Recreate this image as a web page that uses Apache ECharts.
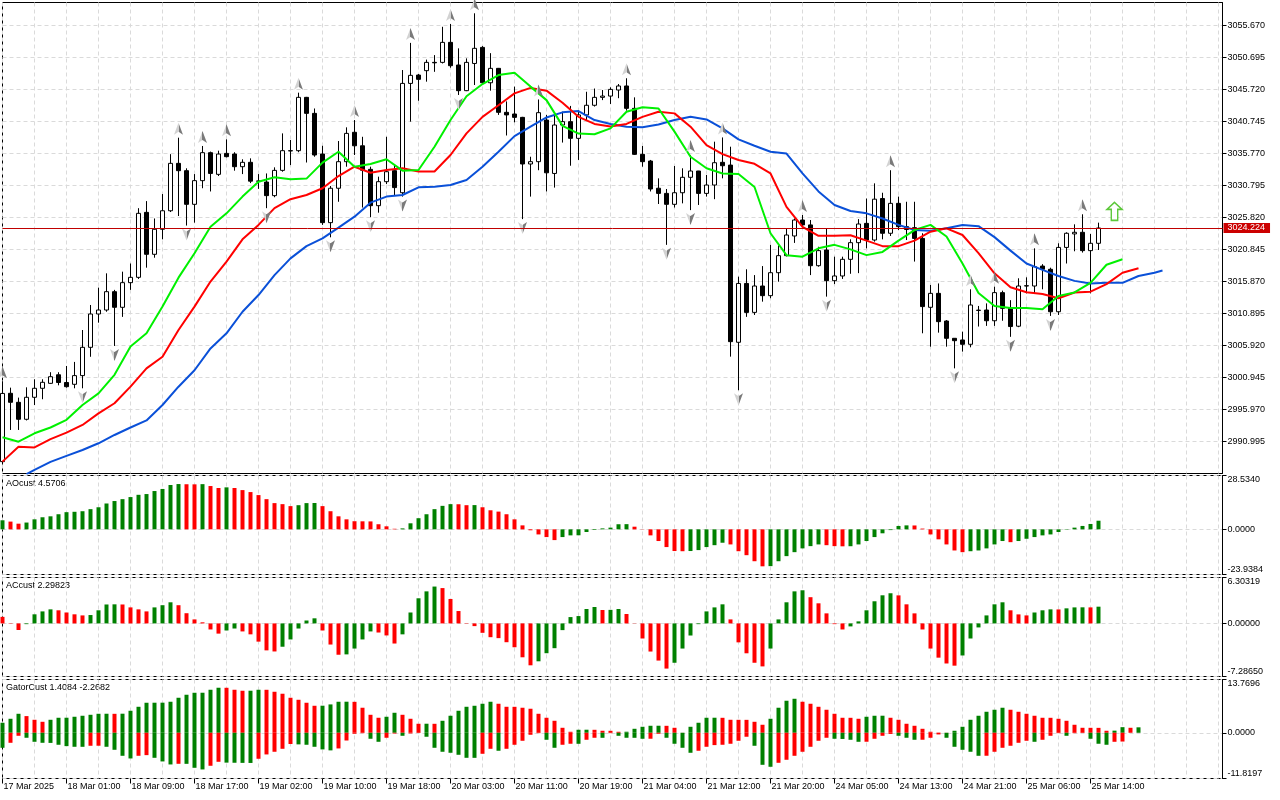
<!DOCTYPE html>
<html><head><meta charset="utf-8">
<script src="https://cdn.jsdelivr.net/npm/echarts/dist/echarts.min.js"></script>
<style>html,body{margin:0;padding:0;background:#fff}#c{width:1280px;height:800px}</style>
</head><body><div id="c"></div>
<script>
// ---------- DATA ----------
const tickLabels = ['17 Mar 2025','18 Mar 01:00','18 Mar 09:00','18 Mar 17:00','19 Mar 02:00','19 Mar 10:00','19 Mar 18:00','20 Mar 03:00','20 Mar 11:00','20 Mar 19:00','21 Mar 04:00','21 Mar 12:00','21 Mar 20:00','24 Mar 05:00','24 Mar 13:00','24 Mar 21:00','25 Mar 06:00','25 Mar 14:00'];
const priceTicks = [2990.995,2995.970,3000.945,3005.920,3010.895,3015.870,3020.845,3025.820,3030.795,3035.770,3040.745,3045.720,3050.695,3055.670];
// [open, high, low, close] per hourly bar
const ohlc = [
[2987.9,3000.4,2987.6,2998.5],[2998.52,2999.40,2992.82,2997.12],[2997.12,2997.85,2992.82,2994.48],[2994.48,2999.45,2994.3,2997.9],
[2997.9,3000.7,2996.7,2999.3],[2999.3,3000.7,2997.6,3000.23],[3000.07,3001.8,3000.0,3001.1],[3001.4,3001.8,2999.76,3000.2],
[3000.2,3002.77,2999.4,2999.55],[2999.92,3003.4,2999.3,3001.27],[3001.27,3008.36,2999.3,3005.67],[3005.67,3012.25,3004.2,3010.85],
[3010.85,3014.95,3009.5,3011.47],[3011.47,3017.17,3011.2,3014.32],[3014.32,3014.6,3005.88,3011.89],[3011.89,3017.43,3010.4,3015.72],
[3015.72,3018.7,3014.6,3016.55],[3016.55,3027.3,3016.3,3026.5],[3026.65,3028.4,3018.05,3020.13],[3020.13,3025.7,3019.6,3024.02],
[3024.02,3029.5,3022.46,3026.9],[3026.9,3035.7,3026.7,3034.27],[3034.27,3038.26,3026.08,3033.13],[3033.13,3033.5,3024.6,3027.9],
[3027.9,3032.6,3025.05,3031.58],[3031.58,3036.97,3030.4,3035.93],[3035.93,3036.1,3029.9,3032.7],[3032.56,3036.24,3032.3,3035.72],
[3035.82,3038.0,3035.2,3035.31],[3035.72,3036.0,3033.13,3033.75],[3033.75,3034.9,3032.6,3034.43],[3034.43,3035.05,3031.2,3031.5],
[3031.52,3032.6,3030.3,3031.5],[3031.37,3032.7,3027.3,3029.25],[3029.25,3033.65,3029.0,3033.18],[3033.18,3038.93,3032.97,3036.24],
[3036.24,3037.9,3034.0,3036.2],[3036.24,3045.26,3036.0,3044.53],[3044.53,3044.6,3034.4,3042.04],[3042.04,3042.8,3035.3,3035.57],
[3035.72,3037.0,3024.7,3025.05],[3025.05,3030.75,3022.77,3030.4],[3030.4,3037.74,3028.3,3034.53],[3034.53,3039.87,3033.75,3038.93],
[3039.1,3041.0,3035.57,3037.0],[3037.0,3038.4,3027.4,3033.2],[3033.34,3033.75,3025.9,3027.69],[3027.69,3032.2,3026.6,3031.42],
[3031.42,3038.4,3031.06,3032.97],[3033.13,3034.0,3029.2,3030.5],[3029.7,3048.78,3029.1,3046.7],[3046.7,3053.0,3040.75,3047.95],
[3048.0,3048.16,3044.0,3047.33],[3048.68,3050.4,3046.97,3049.97],[3049.97,3051.1,3048.5,3049.9],[3049.97,3055.5,3049.8,3053.08],
[3053.08,3055.93,3049.14,3049.45],[3049.56,3052.15,3044.9,3045.57],[3045.57,3050.59,3045.5,3049.97],[3049.8,3057.6,3046.45,3052.15],
[3052.3,3052.5,3046.5,3046.8],[3046.8,3051.4,3045.57,3049.04],[3049.04,3049.1,3041.8,3042.2],[3042.2,3043.9,3038.6,3041.8],
[3041.94,3046.2,3040.65,3041.42],[3041.42,3041.5,3025.6,3034.17],[3034.17,3035.3,3029.1,3034.53],[3034.53,3044.2,3033.2,3042.15],
[3041.0,3041.8,3029.9,3032.8],[3032.7,3041.94,3030.5,3040.23],[3040.23,3042.3,3037.5,3040.75],[3040.75,3043.2,3033.9,3038.16],
[3038.16,3042.56,3034.8,3041.8],[3041.8,3045.4,3041.0,3043.3],[3043.3,3045.9,3043.1,3044.53],[3044.53,3045.67,3044.1,3044.73],
[3044.73,3046.09,3043.5,3045.77],[3045.67,3046.6,3044.4,3046.3],[3046.3,3047.5,3042.46,3042.82],[3042.82,3044.53,3035.57,3035.67],
[3035.67,3036.97,3033.75,3034.53],[3034.63,3034.8,3029.9,3030.28],[3030.4,3031.94,3027.95,3029.6],[3029.6,3030.28,3021.6,3027.9],
[3027.9,3033.86,3027.4,3029.7],[3029.7,3033.5,3028.05,3032.1],[3032.1,3035.57,3027.0,3033.08],[3033.08,3033.1,3027.8,3029.6],
[3029.6,3032.46,3029.1,3030.9],[3030.9,3037.64,3028.7,3034.37],[3034.43,3038.3,3031.94,3033.9],[3034.0,3036.86,3004.22,3006.55],
[3006.45,3016.65,2999.0,3015.6],[3015.6,3017.8,3010.4,3011.1],[3011.1,3016.9,3010.7,3015.2],[3015.2,3018.3,3012.77,3013.7],
[3013.7,3021.6,3013.3,3017.27],[3017.27,3021.5,3015.87,3019.92],[3019.92,3024.17,3019.8,3023.13],[3022.98,3025.7,3021.9,3025.46],
[3025.46,3026.24,3024.5,3024.7],[3024.7,3025.46,3016.9,3018.36],[3018.36,3021.3,3018.2,3020.7],[3020.8,3024.17,3013.55,3016.03],
[3016.03,3019.76,3015.5,3016.76],[3016.76,3019.76,3016.3,3019.35],[3019.35,3022.46,3017.1,3021.94],[3021.94,3025.6,3017.2,3024.84],
[3024.94,3028.8,3021.06,3022.35],[3022.35,3031.16,3022.1,3028.7],[3028.8,3029.7,3022.46,3023.4],[3023.4,3033.2,3022.98,3028.05],
[3028.05,3029.1,3023.9,3024.43],[3024.43,3028.3,3022.35,3024.0],[3024.27,3028.3,3019.0,3022.6],[3022.6,3023.4,3007.85,3012.0],
[3011.89,3015.36,3005.77,3014.06],[3014.06,3015.6,3007.95,3009.66],[3009.76,3009.9,3005.77,3007.07],[3007.07,3007.1,3002.4,3006.7],
[3006.81,3008.1,3005.0,3006.14],[3006.14,3014.69,3005.67,3012.25],[3011.4,3012.1,3008.9,3011.45],[3011.47,3012.5,3009.0,3009.8],
[3009.8,3015.1,3009.0,3014.17],[3014.17,3014.48,3009.8,3011.73],[3011.73,3013.0,3007.3,3008.9],[3008.95,3016.4,3008.8,3015.2],
[3015.2,3016.55,3014.06,3015.25],[3015.2,3021.06,3014.06,3018.21],[3018.3,3018.6,3014.69,3017.8],[3017.8,3018.05,3010.55,3011.2],
[3011.2,3021.84,3010.7,3021.2],[3021.2,3023.55,3018.7,3023.4],[3023.3,3024.79,3020.6,3023.55],[3023.55,3026.35,3020.4,3020.7],
[3020.7,3023.3,3014.06,3021.84],[3021.84,3025.05,3020.8,3024.224]
];
// Alligator lines, [bar index, price]
const lips = [[0,2991.68],[2,2991.0],[4,2992.3],[6,2993.2],[8,2994.4],[10,2996.7],[12,2998.5],[14,3001.4],[16,3005.8],[18,3007.85],[20,3012.0],[22,3016.5],[24,3020.3],[26,3024.4],[28,3026.5],[30,3029.1],[32,3031.4],[34,3032.1],[36,3031.8],[38,3031.9],[40,3034.38],[42,3036.08],[44,3033.75],[46,3034.17],[48,3034.9],[50,3033.13],[52,3033.23],[54,3036.86],[56,3041.0],[58,3044.7],[60,3046.6],[62,3048.0],[64,3048.36],[66,3046.2],[68,3044.1],[70,3040.1],[72,3038.9],[74,3038.8],[76,3039.7],[78,3042.3],[80,3042.98],[82,3042.8],[84,3039.2],[86,3035.3],[88,3033.5],[90,3032.7],[92,3032.6],[94,3030.6],[96,3023.4],[98,3020.0],[100,3019.76],[102,3021.06],[104,3021.6],[106,3020.9],[108,3020.0],[110,3020.5],[112,3022.25],[114,3023.9],[116,3024.7],[118,3022.9],[120,3018.7],[122,3014.1],[124,3012.1],[126,3011.8],[128,3011.8],[130,3011.6],[132,3013.65],[134,3014.2],[136,3015.7],[138,3018.5],[140,3019.35]];
const teeth = [[0,2987.9],[2,2990.2],[4,2990.1],[6,2991.4],[8,2992.4],[10,2993.6],[12,2995.4],[14,2996.97],[16,2999.55],[18,3002.4],[20,3004.2],[22,3008.36],[24,3012.0],[26,3015.9],[28,3019.0],[30,3022.46],[32,3024.7],[34,3027.3],[36,3028.7],[38,3029.35],[40,3030.4],[42,3032.3],[44,3033.75],[46,3032.8],[48,3033.23],[50,3033.5],[52,3033.0],[54,3033.0],[56,3035.57],[58,3038.93],[60,3041.5],[62,3043.3],[64,3045.15],[66,3046.0],[68,3045.57],[70,3043.7],[72,3041.5],[74,3040.4],[76,3040.0],[78,3040.4],[80,3041.5],[82,3042.3],[84,3042.04],[86,3039.97],[88,3037.1],[90,3035.7],[92,3034.8],[94,3034.2],[96,3032.7],[98,3027.5],[100,3024.4],[102,3023.0],[104,3023.0],[106,3023.1],[108,3022.25],[110,3021.4],[112,3021.4],[114,3022.25],[116,3023.65],[118,3024.17],[120,3023.13],[122,3020.3],[124,3017.17],[126,3015.0],[128,3014.22],[130,3013.96],[132,3013.3],[134,3014.2],[136,3014.32],[138,3015.5],[140,3017.27],[142,3017.95]];
const jaw = [[3,2985.95],[4,2986.6],[6,2987.85],[8,2988.8],[10,2989.7],[12,2990.75],[14,2992.04],[16,2993.2],[18,2994.3],[20,2996.7],[22,2999.55],[24,3002.1],[26,3005.5],[28,3007.85],[30,3011.2],[32,3013.8],[34,3016.9],[36,3019.5],[38,3021.4],[40,3022.6],[42,3024.27],[44,3025.98],[46,3028.16],[48,3029.1],[50,3029.35],[52,3030.54],[54,3030.64],[56,3030.9],[58,3031.68],[60,3033.75],[62,3036.08],[64,3038.5],[66,3039.97],[68,3041.4],[70,3042.2],[72,3042.4],[74,3041.0],[76,3040.4],[78,3039.97],[80,3039.87],[82,3040.3],[84,3041.0],[86,3041.5],[88,3041.1],[90,3039.7],[92,3038.0],[94,3037.0],[96,3036.08],[98,3035.8],[100,3032.7],[102,3029.9],[104,3027.8],[106,3026.86],[108,3026.5],[110,3025.7],[112,3024.7],[114,3023.9],[116,3023.8],[118,3024.17],[120,3024.7],[122,3024.5],[124,3022.8],[126,3020.7],[128,3018.7],[130,3017.7],[132,3016.76],[134,3016.0],[136,3015.6],[138,3015.7],[140,3015.7],[142,3016.76],[144,3017.27],[145,3017.6]];
const upFractals = [0,22,25,28,37,44,51,56,59,67,78,86,90,100,111,121,124,129,135];
const downFractals = [10,14,23,33,41,46,50,57,65,83,86,92,103,119,126,131];
const buySignal = [[139,3026.81]];
const ao = [4.8,4.1,3.0,3.6,5.3,6.4,6.9,8.0,9.1,9.3,
9.6,10.7,11.7,13.7,15.0,16.0,17.1,18.3,18.7,20.3,
21.4,23.5,24.0,23.9,23.85,23.95,22.95,21.9,22.25,21.9,
20.8,19.75,18.15,16.0,13.9,13.35,12.3,12.8,13.9,13.95,
12.3,9.6,6.9,5.3,4.3,4.25,4.2,2.7,1.6,0.3,
0.5,3.2,5.9,8.0,10.7,12.45,13.35,13.3,12.8,12.85,
11.7,10.1,9.4,8.0,5.3,2.1,-0.5,-2.7,-4.1,-5.7,
-4.1,-3.2,-3.15,-1.4,-0.35,0.5,0.9,2.7,2.75,1.4,
-0.1,-3.2,-6.2,-9.4,-11.5,-11.6,-11.5,-11.0,-9.4,-8.4,
-7.1,-8.0,-11.6,-13.7,-16.9,-19.6,-19.5,-16.9,-14.2,-12.1,
-10.1,-8.9,-8.0,-8.4,-8.9,-9.0,-8.95,-8.0,-6.2,-4.1,
-2.1,-0.4,1.8,2.1,2.05,0.4,-2.7,-5.3,-8.0,-11.2,
-12.1,-11.6,-11.2,-10.1,-8.0,-6.2,-6.8,-6.2,-5.0,-4.1,
-3.2,-2.7,-1.4,-0.2,0.9,1.8,2.85,4.5706];
const ac = [0.9,-0.05,-0.9,-0.1,1.25,1.65,1.93,1.8,1.5,1.25,
1.1,1.15,1.8,2.6,2.62,2.6,2.2,1.93,1.65,2.2,
2.5,2.9,2.5,1.4,0.55,0.15,-0.83,-1.4,-0.97,-0.7,
-1.1,-1.5,-2.5,-3.7,-3.85,-3.2,-2.2,-0.7,0.4,0.7,
-0.97,-2.9,-4.3,-4.25,-3.45,-2.2,-1.1,-1.25,-1.65,-2.76,
-1.5,1.5,3.45,4.4,5.06,4.85,3.36,1.70,0.05,-0.37,
-1.29,-1.89,-2.02,-2.58,-3.27,-4.65,-5.75,-5.2,-4.09,-3.4,
-0.92,0.87,1.01,1.98,2.25,1.84,1.86,1.98,1.29,-0.03,
-2.07,-3.86,-5.1,-6.2,-5.4,-3.45,-1.66,-0.1,1.65,2.2,
2.62,0.55,-2.6,-4.1,-5.4,-5.9,-3.45,0.55,2.9,4.4,
4.55,3.6,2.76,1.38,-0.1,-0.83,-0.41,0.28,1.8,3.04,
3.86,4.14,3.85,2.62,1.38,-0.83,-3.45,-4.7,-5.5,-5.8,
-4.4,-2.07,-0.55,1.1,2.62,2.9,1.8,1.24,1.1,1.5,
1.8,1.93,1.92,2.07,2.2,2.21,2.2,2.29823];
const gatorUp = [2.59,3.62,4.91,4.31,3.36,2.84,3.36,3.88,3.89,4.14,
4.40,4.65,4.91,4.92,4.90,4.93,5.69,6.72,7.76,7.77,
7.78,8.02,9.05,9.83,10.34,10.35,11.12,11.64,11.63,11.12,
10.86,10.87,11.12,11.11,10.6,10.09,9.05,8.53,7.76,6.98,
7.0,7.33,8.02,8.03,8.0,6.47,4.65,3.88,4.14,5.17,
4.65,3.62,2.33,2.34,2.32,3.10,4.40,5.69,6.72,6.98,
7.50,8.02,7.50,6.72,6.71,6.47,6.21,4.91,3.88,3.10,
1.29,0.26,0.78,0.79,0.77,0.52,0.51,0.26,0.27,1.03,
1.55,1.81,1.82,1.80,1.29,0.02,1.55,2.59,3.88,3.89,
3.87,3.36,3.35,3.34,2.84,2.07,3.62,6.47,8.28,8.79,
8.02,7.50,6.72,5.95,4.91,3.88,3.87,3.62,4.14,4.40,
4.41,3.88,3.36,2.33,1.81,1.03,0.26,0.05,0.02,0.52,
1.55,3.36,4.40,5.43,5.95,6.47,5.95,5.43,4.91,4.40,
3.88,3.87,3.62,3.10,2.07,1.29,1.28,1.27,0.52,0.55,
1.45,1.29,1.4084];
const gatorDown = [-3.88,-2.59,-0.78,-1.29,-2.33,-2.59,-2.62,-3.10,-3.45,-3.62,
-3.63,-3.36,-3.35,-3.62,-4.40,-5.95,-6.64,-5.95,-5.78,-6.47,
-7.41,-8.19,-8.02,-8.03,-9.05,-9.48,-8.53,-7.50,-7.72,-7.75,
-7.78,-7.80,-6.72,-5.60,-4.91,-4.14,-2.90,-3.0,-3.1,-3.62,
-4.30,-4.55,-4.05,-2.0,-0.25,-0.1,-1.55,-2.33,-1.29,-0.2,
-0.78,-0.17,-0.05,-1.03,-3.88,-4.91,-5.17,-5.69,-6.47,-6.48,
-5.43,-4.14,-4.65,-4.14,-3.10,-2.07,-0.52,-0.1,-1.81,-3.88,
-3.10,-2.84,-2.85,-1.81,-1.29,-1.30,-0.1,-0.78,-1.29,-1.30,
-1.55,-1.54,-0.26,-1.29,-2.84,-3.88,-5.17,-4.65,-3.62,-3.19,
-3.10,-2.84,-2.07,-1.03,-3.36,-8.28,-8.79,-7.76,-6.98,-5.95,
-4.91,-3.62,-2.07,-1.29,-1.55,-1.60,-1.81,-2.33,-2.32,-1.55,
-0.78,-0.3,-0.78,-1.29,-1.81,-1.80,-1.29,-0.43,-1.29,-3.62,
-4.40,-4.91,-5.95,-5.94,-4.91,-3.88,-3.36,-2.59,-2.07,-2.33,
-1.81,-0.78,-0.1,-0.78,-0.1,-0.05,-1.55,-2.84,-3.10,-2.33,
-2.2682];
// colour of the first visible bar (no previous bar on screen)
const firstRising = {ao:true, ac:false, gatorUp:true, gatorDown:true};

// ---------- CHART ----------
const FONT = "'Liberation Sans', Arial, sans-serif";
const GRIDC = '#dadada';
const DASH = [4,3];
const GREEN = '#008000', RED = '#ff0000';
const lastClose = ohlc[ohlc.length-1][3];
const labelBars = tickLabels.map((_, i) => i * 8);

const grids = [
  {left:2.5, top:2.5, width:1220, height:471},
  {left:2.5, top:475.5, width:1220, height:99},
  {left:2.5, top:577.5, width:1220, height:99},
  {left:2.5, top:679.5, width:1220, height:99}
].map(g => Object.assign(g, {show:true, borderColor:'#000', borderWidth:1, backgroundColor:'#fff', containLabel:false}));

function xAx(gi){
  return {type:'value', gridIndex:gi, min:0, max:152.5, interval:8, position:'bottom',
    axisLine:{show:false, onZero:false},
    axisTick:{show:false},
    axisLabel:{show:false},
    splitLine:{show:true, lineStyle:{color:GRIDC, type:DASH, width:1}},
    minorTick:{show:false, splitNumber:2},
    minorSplitLine:{show:true, lineStyle:{color:GRIDC, type:DASH, width:1}}};
}
// time axis: ticks and labels only at labelled bars
const timeAxis = {type:'value', gridIndex:3, min:0, max:152.5, position:'bottom',
  axisLine:{show:false, onZero:false},
  axisTick:{show:true, length:5, customValues:labelBars, lineStyle:{color:'#000'}},
  axisLabel:{show:true, customValues:labelBars, formatter:v => tickLabels[Math.round(v/8)] || '', align:'left', margin:4,
    fontSize:9, color:'#000', fontFamily:FONT, padding:[0,0,0,1]},
  splitLine:{show:false}, minorSplitLine:{show:false}};

function edgeFmt(min, max, dec){
  return v => {
    const s = v.toFixed(dec);
    if (Math.abs(v - max) < 1e-9) return '{t|' + s + '}';
    if (Math.abs(v - min) < 1e-9) return '{b|' + s + '}';
    return s;
  };
}
function subY(gi, min, max, dec){
  const vals = [min, 0, max];
  return {type:'value', gridIndex:gi, position:'right', min:min, max:max,
    axisLine:{show:true, onZero:false, lineStyle:{color:'#000'}},
    axisTick:{show:true, length:4, customValues:vals, lineStyle:{color:'#000'}},
    axisLabel:{customValues:vals, formatter:edgeFmt(min, max, dec), margin:5, fontSize:9, color:'#000', fontFamily:FONT,
      rich:{t:{padding:[9,0,0,0], fontSize:9, color:'#000', fontFamily:FONT}, b:{padding:[0,0,9,0], fontSize:9, color:'#000', fontFamily:FONT}}},
    splitLine:{show:true, lineStyle:{color:GRIDC, type:DASH, width:1}}};
}
function colored(vals, firstUp, rising){
  return vals.map((v, i) => ({value:[i, v],
    itemStyle:{color:(i === 0 ? firstUp : rising(v, vals[i-1])) ? GREEN : RED}}));
}
const upSym = 'path://M5 0 L10 12 L5 9 L0 12 Z';
const downSym = 'path://M0 0 L5 3 L10 0 L5 12 Z';
const fracColor = {type:'linear', x:0, y:0, x2:1, y2:0, colorStops:[
  {offset:0, color:'#d2d2d2'},{offset:0.5, color:'#d2d2d2'},{offset:0.5, color:'#7a7a7a'},{offset:1, color:'#7a7a7a'}]};

const option = {
  animation:false,
  backgroundColor:'#fff',
  grid:grids,
  xAxis:[xAx(0), xAx(1), xAx(2), xAx(3), timeAxis],
  yAxis:[
    {type:'value', gridIndex:0, position:'right', min:2986.052, max:3059.277,
      axisLine:{show:true, onZero:false, lineStyle:{color:'#000'}},
      axisTick:{show:true, length:4, customValues:priceTicks, lineStyle:{color:'#000'}},
      axisLabel:{customValues:priceTicks, formatter:v => v.toFixed(3), margin:5, fontSize:9, color:'#000', fontFamily:FONT},
      splitLine:{show:true, lineStyle:{color:GRIDC, type:DASH, width:1}}},
    subY(1, -23.9384, 28.5340, 4),
    subY(2, -7.28650, 6.30319, 5),
    subY(3, -11.8197, 13.7696, 4)
  ],
  graphic:[
    {type:'text', left:6, top:479.5, style:{text:'AOcust 4.5706', font:'9px ' + FONT, fill:'#000'}},
    {type:'text', left:6, top:581.5, style:{text:'ACcust 2.29823', font:'9px ' + FONT, fill:'#000'}},
    {type:'text', left:6, top:683.5, style:{text:'GatorCust 1.4084 -2.2682', font:'9px ' + FONT, fill:'#000'}}
  ],
  series:[
    {type:'candlestick', xAxisIndex:0, yAxisIndex:0, barWidth:5, z:2,
      encode:{x:0, y:[1,2,3,4]},
      data:ohlc.map((d, i) => [i, d[0], d[3], d[2], d[1]]),
      itemStyle:{color:'#ffffff', color0:'#000000', borderColor:'#000000', borderColor0:'#000000', borderWidth:1},
      markLine:{silent:true, symbol:['none','none'], animation:false,
        data:[{yAxis:lastClose}],
        lineStyle:{color:'#c00000', width:1, type:'solid'},
        label:{show:true, position:'end', distance:1, formatter:lastClose.toFixed(3), color:'#fff', backgroundColor:'#cc0000',
          padding:[1,5,0,4], fontSize:9, fontFamily:FONT}}},
    {type:'line', name:'Jaw', xAxisIndex:0, yAxisIndex:0, data:jaw, showSymbol:false, z:3, lineStyle:{color:'#0a50d8', width:2}},
    {type:'line', name:'Teeth', xAxisIndex:0, yAxisIndex:0, data:teeth, showSymbol:false, z:3, lineStyle:{color:'#ff0000', width:2}},
    {type:'line', name:'Lips', xAxisIndex:0, yAxisIndex:0, data:lips, showSymbol:false, z:3, lineStyle:{color:'#00f000', width:2}},
    {type:'scatter', xAxisIndex:0, yAxisIndex:0, z:4, symbol:upSym, symbolSize:[9,12], symbolOffset:[0,-9],
      data:upFractals.map(i => [i, ohlc[i][1]]), itemStyle:{color:fracColor, opacity:1}},
    {type:'scatter', xAxisIndex:0, yAxisIndex:0, z:4, symbol:downSym, symbolSize:[9,12], symbolOffset:[0,9],
      data:downFractals.map(i => [i, ohlc[i][2]]), itemStyle:{color:fracColor, opacity:1}},
    {type:'scatter', xAxisIndex:0, yAxisIndex:0, z:4, symbol:'path://M7 0 L14 7 L10 7 L10 18 L4 18 L4 7 L0 7 Z', symbolSize:[15,18],
      data:buySignal, itemStyle:{color:'#ffffff', borderColor:'#5cc83a', borderWidth:1.5, opacity:1}},
    {type:'bar', xAxisIndex:1, yAxisIndex:1, barWidth:4, data:colored(ao, firstRising.ao, (v, p) => v > p)},
    {type:'bar', xAxisIndex:2, yAxisIndex:2, barWidth:4, data:colored(ac, firstRising.ac, (v, p) => v > p)},
    {type:'bar', xAxisIndex:3, yAxisIndex:3, barWidth:4, barGap:'-100%', data:colored(gatorUp, firstRising.gatorUp, (v, p) => v > p)},
    {type:'bar', xAxisIndex:3, yAxisIndex:3, barWidth:4, barGap:'-100%', data:colored(gatorDown, firstRising.gatorDown, (v, p) => v < p)}
  ]
};
const chart = echarts.init(document.getElementById('c'), null, {renderer:'canvas', width:1280, height:800});
chart.setOption(option);
</script>
</body></html>
